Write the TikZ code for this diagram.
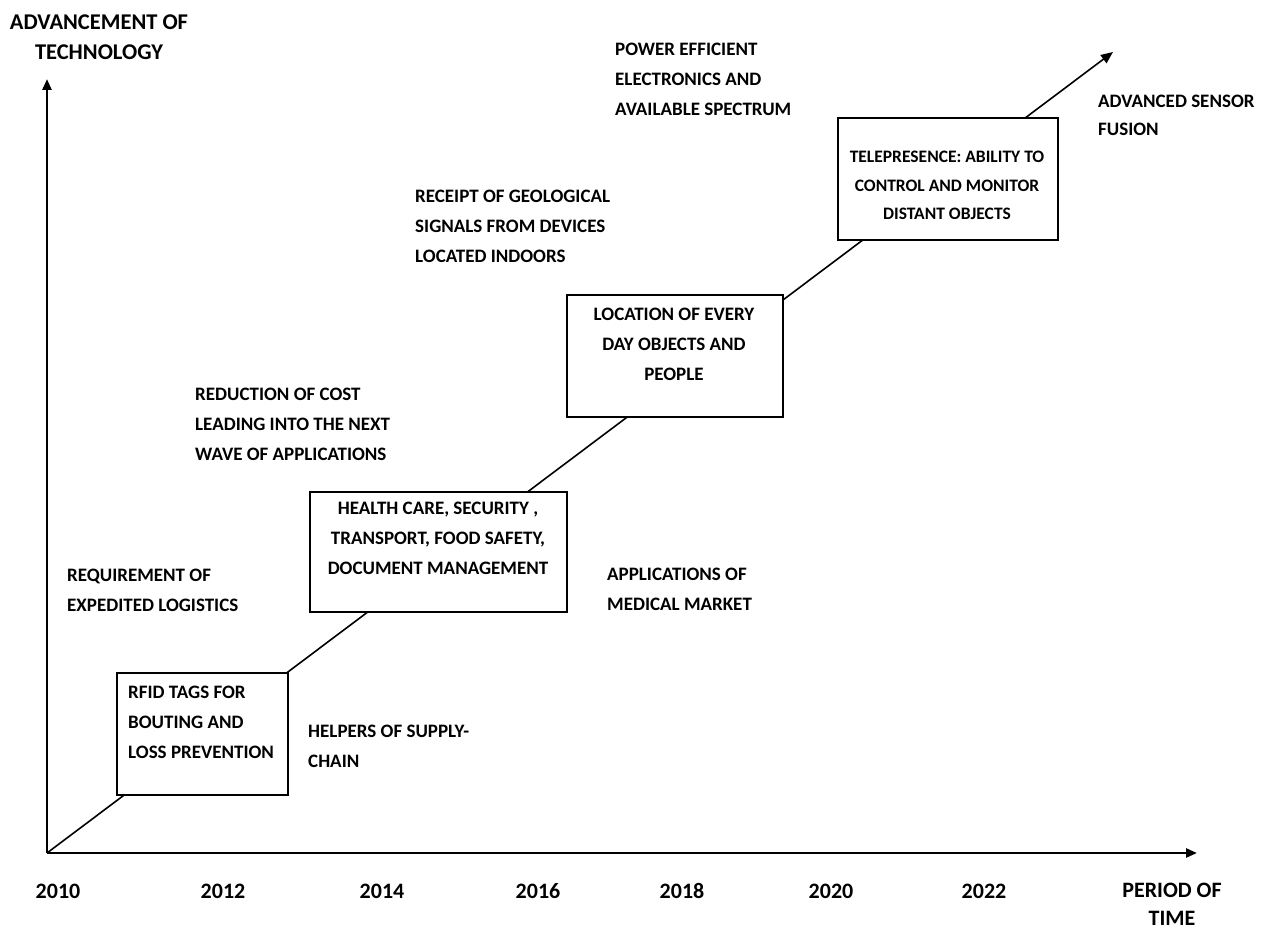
\documentclass[tikz,border=0pt]{standalone}
\usepackage{fontspec}
\setmainfont{Carlito}
\usepackage{tikz}
\usetikzlibrary{arrows.meta}

\begin{document}
\begin{tikzpicture}
[every node/.style={inner sep=0pt, font=\bfseries\fontsize{19pt}{30pt}\selectfont},
 axis/.style={line width=2.5pt, -{Triangle[length=11pt, width=9pt]}},
 trend/.style={line width=1.6pt, -{Triangle[length=12pt, width=10pt]}},
 stagebox/.style={rectangle, draw=black, fill=white, line width=1.25pt},
 lefttext/.style={anchor=north west, align=left},
 midtext/.style={anchor=north, align=center},
 axistext/.style={anchor=base, align=center, font=\bfseries\fontsize{22pt}{28pt}\selectfont}]
\useasboundingbox (0pt, 0pt) rectangle (1264pt, -931pt);
\coordinate (o) at (47pt, -853pt);
\coordinate (ytip) at (47pt, -79pt);
\coordinate (xtip) at (1197pt, -853pt);
\coordinate (ttip) at (1113pt, -52pt);
\draw [axis] (o) -- (ytip);
\draw [axis] (o) -- (xtip);
\draw [trend] (o) -- (ttip);
% boxes along the trend line
\node (b1) [stagebox, minimum width=171pt, minimum height=122pt] at (202.5pt, -734pt) {};
\node (b2) [stagebox, minimum width=257pt, minimum height=120pt] at (438.5pt, -552pt) {};
\node (b3) [stagebox, minimum width=216pt, minimum height=122pt] at (675pt, -356pt) {};
\node (b4) [stagebox, minimum width=220pt, minimum height=122pt] at (948pt, -179pt) {};
\node (b1text) [lefttext] at (128pt, -686pt) {RFID TAGS FOR\\BOUTING AND\\LOSS PREVENTION};
\node (b2text) [midtext] at (438pt, -502pt) {HEALTH CARE, SECURITY ,\\TRANSPORT, FOOD SAFETY,\\DOCUMENT MANAGEMENT};
\node (b3text) [midtext] at (674pt, -308pt) {LOCATION OF EVERY\\DAY OBJECTS AND\\PEOPLE};
\node (b4text) [midtext, font=\bfseries\fontsize{17.5pt}{28.5pt}\selectfont] at (947pt, -151pt) {TELEPRESENCE: ABILITY TO\\CONTROL AND MONITOR\\DISTANT OBJECTS};
% free labels
\node (ylabel) [midtext, font=\bfseries\fontsize{22.5pt}{30pt}\selectfont] at (99pt, -15pt) {ADVANCEMENT OF\\TECHNOLOGY};
\node (power) [lefttext] at (615pt, -43pt) {POWER EFFICIENT\\ELECTRONICS AND\\AVAILABLE SPECTRUM};
\node (fusion) [lefttext, font=\bfseries\fontsize{19pt}{28pt}\selectfont] at (1098pt, -95pt) {ADVANCED SENSOR\\FUSION};
\node (receipt) [lefttext] at (415pt, -190pt) {RECEIPT OF GEOLOGICAL\\SIGNALS FROM DEVICES\\LOCATED INDOORS};
\node (cost) [lefttext] at (195pt, -388pt) {REDUCTION OF COST\\LEADING INTO THE NEXT\\WAVE OF APPLICATIONS};
\node (logistics) [lefttext] at (67pt, -569pt) {REQUIREMENT OF\\EXPEDITED LOGISTICS};
\node (medical) [lefttext] at (607pt, -568pt) {APPLICATIONS OF\\MEDICAL MARKET};
\node (supply) [lefttext] at (308pt, -725pt) {HELPERS OF SUPPLY-\\CHAIN};
% time axis
\node (y2010) [axistext] at (58pt, -898pt) {2010};
\node (y2012) [axistext] at (223pt, -898pt) {2012};
\node (y2014) [axistext] at (382pt, -898pt) {2014};
\node (y2016) [axistext] at (538pt, -898pt) {2016};
\node (y2018) [axistext] at (682pt, -898pt) {2018};
\node (y2020) [axistext] at (831pt, -898pt) {2020};
\node (y2022) [axistext] at (984pt, -898pt) {2022};
\node (xlabel) [axistext, anchor=north] at (1172pt, -883pt) {PERIOD OF\\TIME};
\end{tikzpicture}
\end{document}
